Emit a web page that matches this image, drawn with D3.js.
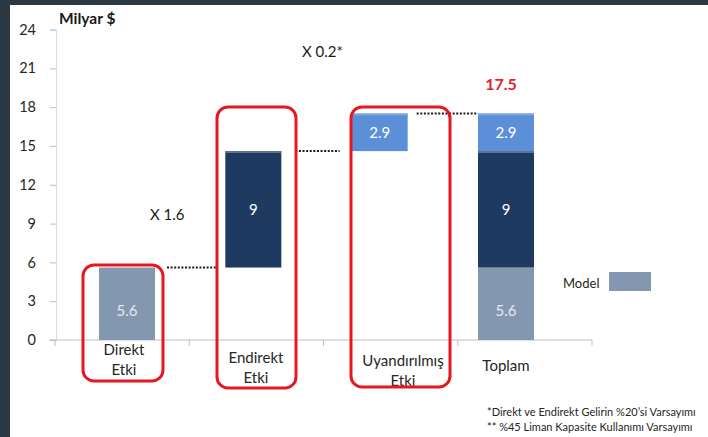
<!DOCTYPE html>
<html>
<head>
<meta charset="utf-8">
<script src="https://cdn.jsdelivr.net/npm/d3@7"></script>
<style>
  html, body { margin: 0; padding: 0; background: #ffffff; }
  svg { display: block; font-family: Lato, "Open Sans", sans-serif; }
</style>
</head>
<body>
<svg id="chart" width="708" height="437"></svg>
<script>
// ---------------- data ----------------
const categories = ["Direkt Etki", "Endirekt Etki", "Uyandırılmış Etki", "Toplam"];
const categoryLines = [["Direkt", "Etki"], ["Endirekt", "Etki"], ["Uyandırılmış", "Etki"], ["Toplam"]];
const directValues   = [5.6, 0, 0, 5.6];
const indirectValues = [0, 9, 0, 9];
const inducedValues  = [0, 0, 2.9, 2.9];
const totalLabel = "17.5";
const totalValue = 17.5;
const yTicks = [0, 3, 6, 9, 12, 15, 18, 21, 24];
const yUnit = "Milyar $";
const multiplierLabels = ["X 1.6", "X 0.2*"];
const legendLabel = "Model";
const footnotes = ["*Direkt ve Endirekt Gelirin %20’si Varsayımı", "** %45 Liman Kapasite Kullanımı Varsayımı"];

// ---------------- setup ----------------
const svg = d3.select("#chart");
const W = 708, H = 437;
svg.append("rect").attr("width", W).attr("height", H).attr("fill", "#ffffff");
// dark frame (top + left)
svg.append("rect").attr("x", 0).attr("y", 0).attr("width", W).attr("height", 5).attr("fill", "#2c3942");
svg.append("rect").attr("x", 0).attr("y", 0).attr("width", 10).attr("height", H).attr("fill", "#2c3942");

const seriesList = [
  { name: "direct", values: directValues, color: "#8497b0", text: "#e4e9f0" },
  { name: "indirect", values: indirectValues, color: "#1f3a60", text: "#ffffff" },
  { name: "induced", values: inducedValues, color: "#5b8fd8", text: "#ffffff" }
];

const y = d3.scaleLinear().domain([0, 24]).range([340, 29.5]);
const xAxisBand = d3.scaleBand().domain(categories).range([55, 592]);
const xBar = d3.scalePoint().domain(categories).range([127, 506]);
const barW = 56;

// ---------------- y axis ----------------
const yAxisG = svg.append("g").attr("transform", "translate(56,0)")
  .call(d3.axisLeft(y).tickValues(yTicks).tickSize(6).tickPadding(14));
yAxisG.select(".domain").attr("stroke", "#dcdcdc");
yAxisG.selectAll(".tick line").attr("stroke", "#bfbfbf");
yAxisG.selectAll(".tick text").attr("fill", "#262626").style("font-size", "14.5px").style("font-family", "Lato, sans-serif");

svg.append("text").attr("x", 59).attr("y", 24).text(yUnit)
  .style("font-size", "15.5px").style("font-weight", "bold").attr("fill", "#1a1a1a");

// ---------------- x axis ----------------
const xAxisG = svg.append("g");
xAxisG.append("line").attr("x1", 49).attr("x2", xAxisBand.range()[1]).attr("y1", y(0)).attr("y2", y(0))
  .attr("stroke", "#bfbfbf");
const edges = categories.map(c => xAxisBand(c)).concat([xAxisBand.range()[1]]);
xAxisG.selectAll("line.tk").data(edges).join("line").attr("class", "tk")
  .attr("x1", d => d).attr("x2", d => d).attr("y1", y(0)).attr("y2", y(0) + 6).attr("stroke", "#bfbfbf");

// ---------------- waterfall segments ----------------
const segments = [];
let running = 0;
categories.forEach((c, i) => {
  const isTotal = i === categories.length - 1;
  let start = isTotal ? 0 : running;
  seriesList.forEach(s => {
    const v = s.values[i];
    if (v > 0) {
      segments.push({ cat: c, y0: start, y1: start + v, v, s });
      start += v;
      if (!isTotal) running += v;
    }
  });
});

const barsG = svg.append("g");
barsG.selectAll("rect.seg").data(segments).join("rect").attr("class", "seg")
  .attr("x", d => xBar(d.cat) - barW / 2)
  .attr("y", d => y(d.y1))
  .attr("width", barW)
  .attr("height", d => y(d.y0) - y(d.y1))
  .attr("fill", d => d.s.color);
// subtle top bevel
barsG.selectAll("line.bev").data(segments.filter(d => d.s.name !== "direct")).join("line").attr("class", "bev")
  .attr("x1", d => xBar(d.cat) - barW / 2).attr("x2", d => xBar(d.cat) + barW / 2)
  .attr("y1", d => y(d.y1) + 1).attr("y2", d => y(d.y1) + 1)
  .attr("stroke", d => d.s.name === "indirect" ? "#5d7190" : "#7aa6e2").attr("stroke-width", 2);

barsG.selectAll("text.val").data(segments).join("text").attr("class", "val")
  .attr("x", d => xBar(d.cat))
  .attr("y", d => (y(d.y0) + y(d.y1)) / 2 + (d.s.name === "direct" ? 7 : 0))
  .attr("dy", "0.35em")
  .attr("text-anchor", "middle")
  .attr("fill", d => d.s.text)
  .style("font-size", "15px")
  .text(d => d.v);

// ---------------- dotted connectors ----------------
const cumul = d3.cumsum(categories.slice(0, -1).map((c, i) => directValues[i] + indirectValues[i] + inducedValues[i]));
const connGaps = [[12, 8], [14, 12], [9, 0]];
cumul.forEach((v, i) => {
  const x1 = xBar(categories[i]) + barW / 2 + connGaps[i][0];
  const x2 = xBar(categories[i + 1]) - barW / 2 - connGaps[i][1];
  svg.append("line").attr("x1", x1).attr("x2", x2).attr("y1", y(v)).attr("y2", y(v))
    .attr("stroke", "#1a1a1a").attr("stroke-width", 2).attr("stroke-dasharray", "2,1.6");
});

// ---------------- total label ----------------
svg.append("text").attr("x", xBar("Toplam") - 5).attr("y", y(totalValue) - 24)
  .attr("text-anchor", "middle").attr("fill", "#e3212b")
  .style("font-size", "16px").style("font-weight", "bold").text(totalLabel);

// ---------------- multipliers ----------------
svg.append("text").attr("x", 150).attr("y", 220).attr("fill", "#1a1a1a").style("font-size", "15px").text(multiplierLabels[0]);
svg.append("text").attr("x", 302).attr("y", 57).attr("fill", "#1a1a1a").style("font-size", "15px").text(multiplierLabels[1]);

// ---------------- category labels ----------------
const labelPos = [[124, 355], [256, 363], [403, 366], [506, 371]];
categoryLines.forEach((lines, i) => {
  const t = svg.append("text").attr("text-anchor", "middle").attr("fill", "#262626").style("font-size", "15px");
  lines.forEach((ln, j) => {
    t.append("tspan").attr("x", labelPos[i][0]).attr("y", labelPos[i][1] + j * 20).text(ln);
  });
});

// ---------------- red highlight boxes ----------------
const boxes = [[83, 265, 80, 116], [217, 107, 79, 281], [351, 107, 99, 280]];
svg.selectAll("rect.hl").data(boxes).join("rect").attr("class", "hl")
  .attr("x", d => d[0]).attr("y", d => d[1]).attr("width", d => d[2]).attr("height", d => d[3])
  .attr("rx", 11).attr("ry", 11)
  .attr("fill", "none").attr("stroke", "#e8161f").attr("stroke-width", 3);

// ---------------- legend ----------------
svg.append("text").attr("x", 563).attr("y", 288).attr("fill", "#262626").style("font-size", "13px").text(legendLabel);
svg.append("rect").attr("x", 609).attr("y", 272).attr("width", 42).attr("height", 19).attr("fill", seriesList[0].color);

// ---------------- footnotes ----------------
footnotes.forEach((f, i) => {
  svg.append("text").attr("x", 487).attr("y", 416 + i * 15).attr("fill", "#262626")
    .style("font-size", "11px").text(f);
});
</script>
</body>
</html>
